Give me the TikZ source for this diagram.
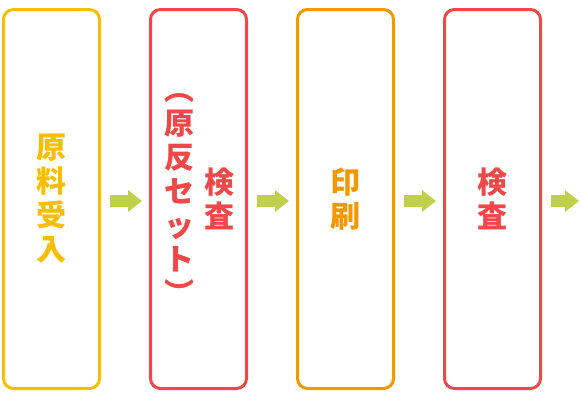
\documentclass[tikz,border=0pt]{standalone}
\usepackage{fontspec}
\usepackage{xcolor}
\usetikzlibrary{positioning,arrows.meta}
\newfontfamily\cjk{Noto Sans CJK JP}
\definecolor{stepyellow}{HTML}{FABE00}
\definecolor{stepred}{HTML}{F04848}
\definecolor{steporange}{HTML}{F39800}
\definecolor{flowgreen}{HTML}{BDD14C}
\tikzset{
  stepbox/.style={draw, line width=3pt, rounded corners=10pt, minimum width=96pt, minimum height=379pt, inner sep=0pt},
  steptext/.style={align=center, inner sep=0pt, font=\cjk\bfseries\fontsize{30}{34}\selectfont},
  flow/.style={draw=flowgreen, line width=12pt, -{Triangle[length=14pt,width=21pt]}, shorten <=9pt, shorten >=7pt}
}
\begin{document}
\begin{tikzpicture}[x=1pt,y=-1pt]
\useasboundingbox (0,0) rectangle (580,400);
% boxes
\node[stepbox, draw=stepyellow] (receive) at (51.5,199) {};
\node[stepbox, draw=stepred, right=48pt of receive] (check1) {};
\node[stepbox, draw=steporange, right=48pt of check1] (print) {};
\node[stepbox, draw=stepred, right=48pt of print] (check2) {};
\coordinate (out) at (586,201);
% labels
\node[steptext, text=stepyellow] (receivetext) at (receive) {原\\料\\受\\入};
\node[steptext, text=stepred] (check1sub) at ([xshift=-19.5pt]check1.center) {︵\\原\\反\\セ\\ッ\\ト\\︶};
\node[steptext, text=stepred] (check1text) at ([xshift=20.5pt]check1.center) {検\\査};
\node[steptext, text=steporange] (printtext) at (print) {印\\刷};
\node[steptext, text=stepred] (check2text) at (check2) {検\\査};
% arrows
\draw[flow] ([yshift=-2pt]receive.east) -- ([yshift=-2pt]check1.west);
\draw[flow] ([yshift=-2pt]check1.east) -- ([yshift=-2pt]print.west);
\draw[flow] ([yshift=-2pt]print.east) -- ([yshift=-2pt]check2.west);
\draw[flow] ([yshift=-2pt]check2.east) -- (out);
\end{tikzpicture}
\end{document}
